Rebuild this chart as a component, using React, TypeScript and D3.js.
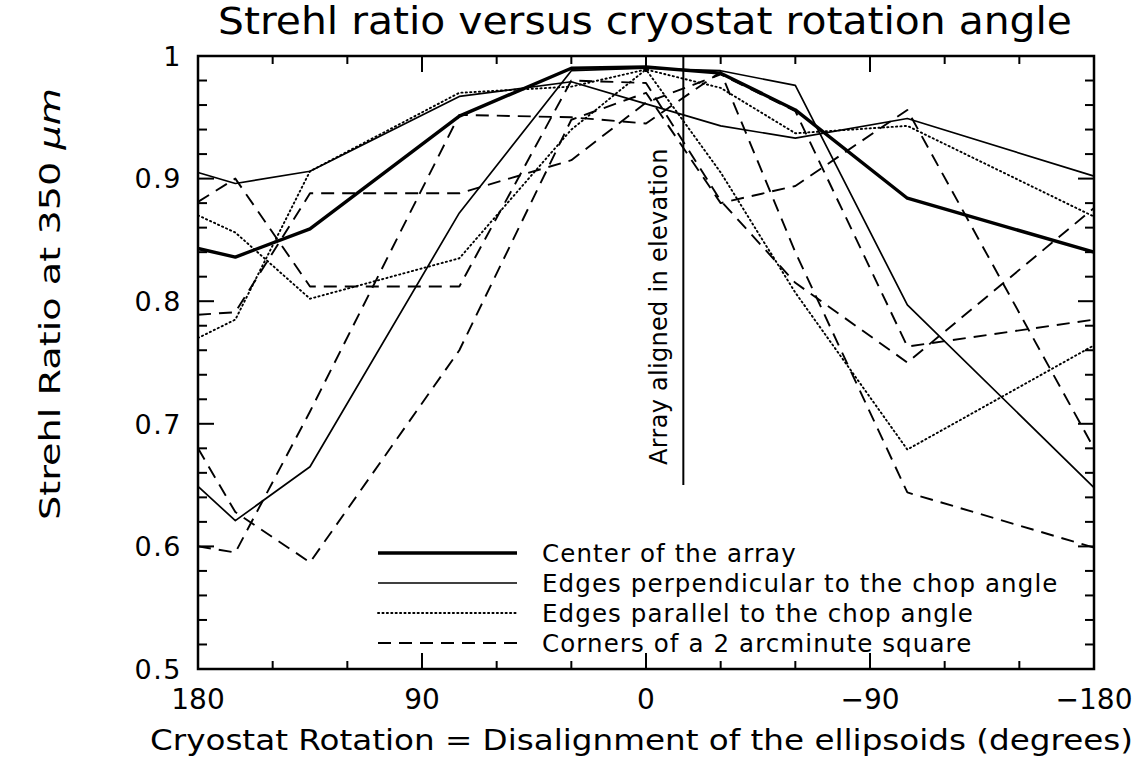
import React from "react";
import * as d3 from "d3";

const angles = [180, 165, 135, 75, 30, 0, -30, -60, -105, -180];
const centerArray = [0.843, 0.836, 0.859, 0.951, 0.99, 0.991, 0.986, 0.956, 0.884, 0.84];
const edgesPerpA = [0.905, 0.896, 0.906, 0.967, 0.979, 0.961, 0.943, 0.933, 0.949, 0.902];
const edgesPerpB = [0.649, 0.621, 0.665, 0.872, 0.988, 0.99, 0.988, 0.976, 0.797, 0.648];
const edgesParA = [0.87, 0.856, 0.802, 0.835, 0.94, 0.989, 0.974, 0.937, 0.943, 0.869];
const edgesParB = [0.77, 0.785, 0.906, 0.97, 0.975, 0.989, 0.905, 0.807, 0.679, 0.764];
const cornerA = [0.881, 0.9, 0.812, 0.812, 0.98, 0.978, 0.882, 0.815, 0.75, 0.876];
const cornerB = [0.789, 0.791, 0.888, 0.888, 0.915, 0.962, 0.985, 0.955, 0.763, 0.785];
const cornerC = [0.68, 0.628, 0.587, 0.76, 0.948, 0.97, 0.88, 0.894, 0.956, 0.68];
const cornerD = [0.6, 0.595, 0.71, 0.952, 0.95, 0.945, 0.987, 0.84, 0.644, 0.599];

const xTickValues = [180, 90, 0, -90, -180];
const xTickLabels = ["180", "90", "0", "\u221290", "\u2212180"];
const yTickValues = [0.5, 0.6, 0.7, 0.8, 0.9, 1.0];
const yTickLabels = ["0.5", "0.6", "0.7", "0.8", "0.9", "1"];
const elevationAngle = -15;
const elevationLineBottom = 0.65;

const legendLabels = [
  "Center of the array",
  "Edges perpendicular to the chop angle",
  "Edges parallel to the chop angle",
  "Corners of a 2 arcminute square",
];

type Style = { width: number; dash?: string; cap?: string };
const styles: Record<string, Style> = {
  center: { width: 3.4 },
  perp: { width: 1.7 },
  par: { width: 1.9, dash: "1.2,3.2", cap: "round" },
  corner: { width: 1.9, dash: "13,8" },
};

const seriesList: { values: number[]; style: string }[] = [
  { values: centerArray, style: "center" },
  { values: edgesPerpA, style: "perp" },
  { values: edgesPerpB, style: "perp" },
  { values: edgesParA, style: "par" },
  { values: edgesParB, style: "par" },
  { values: cornerA, style: "corner" },
  { values: cornerB, style: "corner" },
  { values: cornerC, style: "corner" },
  { values: cornerD, style: "corner" },
];

const W = 1139;
const H = 759;
const M = { left: 198, right: 1094, top: 56, bottom: 669 };
const FONT = "'DejaVu Sans', sans-serif";

export default function App() {
  const x = d3.scaleLinear().domain([180, -180]).range([M.left, M.right]);
  const y = d3.scaleLinear().domain([0.5, 1.0]).range([M.bottom, M.top]);
  const line = d3
    .line<[number, number]>()
    .x((d) => x(d[0]))
    .y((d) => y(d[1]));

  const xMinor = d3.range(180, -181, -30);
  const yMinor = d3.range(0, 26).map((i) => 0.5 + i * 0.02);
  const isMajorX = (v: number) => Math.abs(v) % 90 === 0;
  const isMajorY = (v: number) => Math.abs(Math.round(v * 100) % 10) === 0;

  const legendX0 = 378;
  const legendX1 = 517;
  const legendRows = [553, 583, 613, 643];
  const legendStyles = ["center", "perp", "par", "corner"];

  return (
    <svg
      width={W}
      height={H}
      style={{ position: "absolute", left: 0, top: 0, background: "#fff" }}
      fontFamily={FONT}
    >
      <rect x={0} y={0} width={W} height={H} fill="#fff" />
      <text x={218} y={34} fontSize={37} textLength={854} lengthAdjust="spacingAndGlyphs" fill="#000">
        Strehl ratio versus cryostat rotation angle
      </text>

      <g fill="none" stroke="#000" strokeLinejoin="round">
        {seriesList.map((s, i) => {
          const st = styles[s.style];
          const pts = angles.map((a, j) => [a, s.values[j]] as [number, number]);
          return (
            <path
              key={i}
              d={line(pts) || ""}
              strokeWidth={st.width}
              strokeDasharray={st.dash}
              strokeLinecap={(st.cap as any) || "butt"}
            />
          );
        })}
      </g>

      <line
        x1={x(elevationAngle)}
        x2={x(elevationAngle)}
        y1={y(1.0)}
        y2={y(elevationLineBottom)}
        stroke="#000"
        strokeWidth={2}
      />
      <text
        transform={`translate(${x(elevationAngle) - 16},${465}) rotate(-90)`}
        fontSize={24}
        letterSpacing={0.3}
        fill="#000"
      >
        Array aligned in elevation
      </text>

      {legendLabels.map((lab, i) => {
        const st = styles[legendStyles[i]];
        return (
          <g key={i}>
            <line
              x1={legendX0}
              x2={legendX1}
              y1={legendRows[i]}
              y2={legendRows[i]}
              stroke="#000"
              strokeWidth={st.width}
              strokeDasharray={st.dash}
              strokeLinecap={(st.cap as any) || "butt"}
            />
            <text x={542} y={legendRows[i]} dy="0.35em" fontSize={24.5} letterSpacing={1.1} fill="#000">
              {lab}
            </text>
          </g>
        );
      })}

      <rect
        x={M.left}
        y={M.top}
        width={M.right - M.left}
        height={M.bottom - M.top}
        fill="none"
        stroke="#000"
        strokeWidth={2.5}
      />
      {xMinor.map((v) => {
        const len = isMajorX(v) ? 16 : 8;
        return (
          <g key={"xt" + v} stroke="#000" strokeWidth={2}>
            <line x1={x(v)} x2={x(v)} y1={M.bottom} y2={M.bottom - len} />
            <line x1={x(v)} x2={x(v)} y1={M.top} y2={M.top + len} />
          </g>
        );
      })}
      {yMinor.map((v, i) => {
        const len = isMajorY(v) ? 16 : 9;
        return (
          <g key={"yt" + i} stroke="#000" strokeWidth={2}>
            <line x1={M.left} x2={M.left + len} y1={y(v)} y2={y(v)} />
            <line x1={M.right} x2={M.right - len} y1={y(v)} y2={y(v)} />
          </g>
        );
      })}

      {xTickValues.map((v, i) => (
        <text key={"xl" + v} x={x(v)} y={709} textAnchor="middle" fontSize={28} fill="#000">
          {xTickLabels[i]}
        </text>
      ))}
      {yTickValues.map((v, i) => (
        <text
          key={"yl" + v}
          x={182}
          y={y(v)}
          dy="0.36em"
          textAnchor="end"
          fontSize={27}
          letterSpacing={1.5}
          fill="#000"
        >
          {yTickLabels[i]}
        </text>
      ))}

      <text x={150} y={750} fontSize={28} textLength={983} lengthAdjust="spacingAndGlyphs" fill="#000">
        Cryostat Rotation = Disalignment of the ellipsoids (degrees)
      </text>
      <text
        transform={`translate(60,${304}) rotate(-90)`}
        textAnchor="middle"
        fontSize={29}
        textLength={432}
        lengthAdjust="spacingAndGlyphs"
        fill="#000"
      >
        Strehl Ratio at 350 <tspan fontStyle="italic">μm</tspan>
      </text>
    </svg>
  );
}
